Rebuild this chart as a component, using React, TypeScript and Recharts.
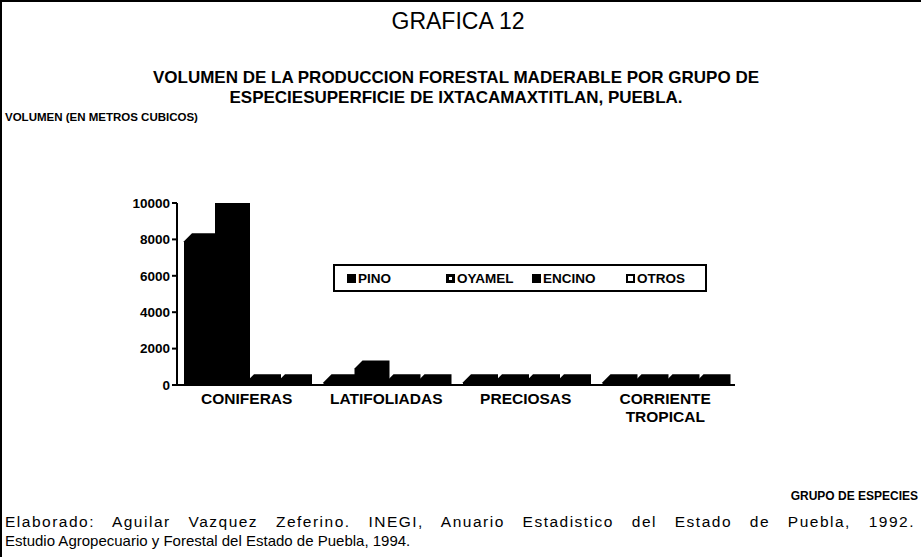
import React from 'react';
import { BarChart, Bar, XAxis, YAxis, Legend } from 'recharts';

const categories = ['CONIFERAS', 'LATIFOLIADAS', 'PRECIOSAS', 'CORRIENTE TROPICAL'];
const pino = [7900, 150, 150, 150];
const oyamel = [10000, 900, 150, 150];
const encino = [150, 150, 150, 150];
const otros = [150, 150, 150, 150];
const yTicks = [0, 2000, 4000, 6000, 8000, 10000];

const series = [
    { key: 'PINO', values: pino, icon: 'solid' },
    { key: 'OYAMEL', values: oyamel, icon: 'dotted' },
    { key: 'ENCINO', values: encino, icon: 'solid' },
    { key: 'OTROS', values: otros, icon: 'hollow' },
];

const chartData = categories.map((name, i) => {
    const row: Record<string, string | number> = { name };
    series.forEach(s => { row[s.key] = s.values[i]; });
    return row;
});

const FONT = '"Liberation Sans", Arial, sans-serif';
const DEPTH = 8;

// bar with a slanted top-left edge, like the old 3D bars
const Bar3D = (props: any) => {
    const { x, y, width, height } = props;
    const bottom = y + height;
    const d = `M${x},${bottom} L${x},${y} L${x + DEPTH},${y - DEPTH} L${x + width + DEPTH * 0.5},${y - DEPTH} L${x + width + DEPTH * 0.5},${bottom} Z`;
    return <path d={d} fill="#000" />;
};

const XTick = (props: any) => {
    const { x, y, payload } = props;
    const lines = String(payload.value).split(' ');
    return (
        <text x={x} y={y} textAnchor="middle" fontFamily={FONT} fontWeight="bold" fontSize={15.5} fill="#000">
            {lines.map((l, i) => (
                <tspan key={i} x={x} dy={i === 0 ? 11 : 18}>{l}</tspan>
            ))}
        </text>
    );
};

const legendLeft = [12, 111, 197, 291];

const LegendBox = () => (
    <div style={{ position: 'relative', width: 374, height: 28, border: '2px solid #000', boxSizing: 'border-box', background: '#fff' }}>
        {series.map((s, i) => (
            <div key={s.key} style={{ position: 'absolute', left: legendLeft[i], top: 5, display: 'flex', alignItems: 'center', fontFamily: FONT, fontWeight: 'bold', fontSize: 13.5, color: '#000' }}>
                <span style={{
                    display: 'inline-block', width: 9, height: 9, marginRight: 2, boxSizing: 'border-box',
                    background: s.icon === 'hollow' ? '#fff' : '#000',
                    border: '2px solid #000', position: 'relative',
                }}>
                    {s.icon === 'dotted' && <span style={{ position: 'absolute', left: 1, top: 1, width: 3, height: 3, background: '#fff' }} />}
                </span>
                {s.key}
            </div>
        ))}
    </div>
);

export default function App() {
    return (
        <div style={{ position: 'absolute', left: 0, top: 0, width: 921, height: 557, overflow: 'hidden', background: '#fff', fontFamily: FONT }}>
            <div style={{ position: 'absolute', left: 0, top: 0, width: 921, height: 557, borderLeft: '2px solid #000', borderTop: '2px solid #000', boxSizing: 'border-box' }} />
            <div style={{ position: 'absolute', left: 0, top: 8, width: 916, textAlign: 'center', fontSize: 23 }}>GRAFICA 12</div>
            <div style={{ position: 'absolute', left: 0, top: 68, width: 912, textAlign: 'center', fontSize: 17, fontWeight: 'bold', lineHeight: '20px' }}>
                VOLUMEN DE LA PRODUCCION FORESTAL MADERABLE POR GRUPO DE<br />ESPECIESUPERFICIE DE IXTACAMAXTITLAN, PUEBLA.
            </div>
            <div style={{ position: 'absolute', left: 5, top: 111, fontSize: 11.5, fontWeight: 'bold' }}>VOLUMEN (EN METROS CUBICOS)</div>

            <BarChart
                width={921}
                height={557}
                data={chartData}
                margin={{ top: 203, right: 186, left: 117, bottom: 122 }}
                barCategoryGap={7}
                barGap={0}
                style={{ position: 'absolute', left: 0, top: 0 }}
            >
                <XAxis dataKey="name" tick={<XTick />} tickLine={false} axisLine={{ stroke: '#000', strokeWidth: 2 }} interval={0} height={50} />
                <YAxis
                    domain={[0, 10000]}
                    ticks={yTicks}
                    width={60}
                    tick={{ fontFamily: FONT, fontWeight: 'bold', fontSize: 13.5, fill: '#000' }}
                    tickLine={{ stroke: '#000', strokeWidth: 2 }}
                    tickSize={5}
                    tickMargin={2}
                    axisLine={{ stroke: '#000', strokeWidth: 2 }}
                    allowDataOverflow
                />
                <Legend
                    layout="horizontal"
                    verticalAlign="middle"
                    align="center"
                    content={<LegendBox />}
                    wrapperStyle={{ position: 'absolute', left: 333, top: 264, width: 374, height: 28 }}
                />
                {series.map(s => (
                    <Bar key={s.key} dataKey={s.key} fill="#000" shape={<Bar3D />} isAnimationActive={false} />
                ))}
            </BarChart>

            <div style={{ position: 'absolute', right: 3, top: 489, fontSize: 12, fontWeight: 'bold', whiteSpace: 'nowrap' }}>GRUPO DE ESPECIES</div>
            <div style={{ position: 'absolute', left: 5, top: 512, width: 910, fontSize: 15.5, lineHeight: '19px', letterSpacing: 1.5, textAlign: 'justify', textAlignLast: 'justify' as any, whiteSpace: 'nowrap' }}>
                Elaborado: Aguilar Vazquez Zeferino. INEGI, Anuario Estadistico del Estado de Puebla, 1992.
            </div>
            <div style={{ position: 'absolute', left: 5, top: 531, fontSize: 15, lineHeight: '19px', whiteSpace: 'nowrap' }}>
                Estudio Agropecuario y Forestal del Estado de Puebla, 1994.
            </div>
        </div>
    );
}
